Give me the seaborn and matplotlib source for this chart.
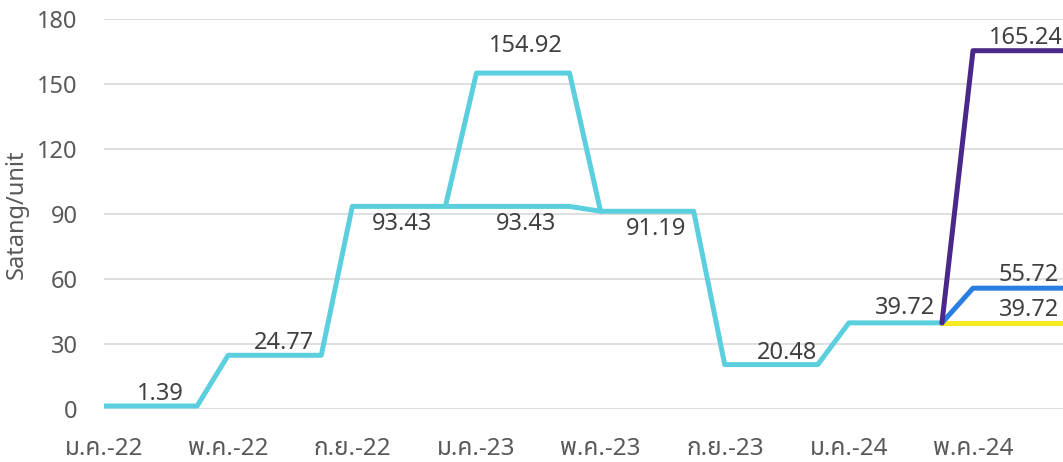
import pandas as pd
import seaborn as sns
import matplotlib
matplotlib.use('Agg')
from matplotlib import pyplot as plt

# ค่า Ft รายเดือน (index 0 = ม.ค.-22)
base_months = list(range(0, 28))
base_values = [1.39, 1.39, 1.39, 1.39,
               24.77, 24.77, 24.77, 24.77,
               93.43, 93.43, 93.43, 93.43,
               93.43, 93.43, 93.43, 93.43,
               91.19, 91.19, 91.19, 91.19,
               20.48, 20.48, 20.48, 20.48,
               39.72, 39.72, 39.72, 39.72]

upper_months = [11, 12, 13, 14, 15, 16]
upper_values = [93.43, 154.92, 154.92, 154.92, 154.92, 91.19]

option_months = [27, 28, 29, 30, 31]
option_a = [39.72, 165.24, 165.24, 165.24, 165.24]
option_b = [39.72, 55.72, 55.72, 55.72, 55.72]
option_c = [39.72, 39.72, 39.72, 39.72, 39.72]

tick_pos = [0, 4, 8, 12, 16, 20, 24, 28]
tick_labels = ['ม.ค.-22', 'พ.ค.-22', 'ก.ย.-22', 'ม.ค.-23',
               'พ.ค.-23', 'ก.ย.-23', 'ม.ค.-24', 'พ.ค.-24']

# ป้ายตัวเลข: (x, y, ข้อความ)
label_x = [1.8, 5.8, 9.6, 13.6, 13.6, 17.8, 22.0, 25.8, 29.7, 29.8, 29.8]
label_y = [1.39, 24.77, 93.43, 154.92, 93.43, 91.19, 20.48, 39.72, 165.24, 55.72, 39.72]
label_txt = ['1.39', '24.77', '93.43', '154.92', '93.43', '91.19',
             '20.48', '39.72', '165.24', '55.72', '39.72']
label_off = [12, 12, -18, 27, -18, -18, 12, 15, 13, 13, 13]

sns.set_style('white')
plt.rcParams['font.family'] = ['Noto Sans', 'Noto Sans Thai']

fig = plt.figure(figsize=(10.63, 4.62), dpi=100)
ax = fig.add_axes([104 / 1063, 53 / 462, 1 - 104 / 1063, 390.3 / 462])

cyan = '#5ccfdf'
lw = 3.6
sns.lineplot(x=upper_months, y=upper_values, color=cyan, lw=lw, ax=ax)
sns.lineplot(x=base_months, y=base_values, color=cyan, lw=lw, ax=ax)
sns.lineplot(x=option_months, y=option_c, color='#fbe91f', lw=lw, ax=ax)
sns.lineplot(x=option_months, y=option_b, color='#2a7de1', lw=lw, ax=ax)
sns.lineplot(x=option_months, y=option_a, color='#4a2889', lw=lw, ax=ax)

for x, y, t, o in zip(label_x, label_y, label_txt, label_off):
    ax.annotate(t, (x, y), xytext=(0, o * 0.72), textcoords='offset points',
                ha='center', va='center', fontsize=17, color='#404040')

ax.set_xlim(0, 30.9)
ax.set_ylim(0, 180)
ax.set_yticks(range(0, 181, 30))
ax.set_xticks(tick_pos)
ax.set_xticklabels(tick_labels)
ax.grid(axis='y', color='#d9d9d9', lw=1.2)
ax.set_axisbelow(True)
for s in ax.spines.values():
    s.set_visible(False)
ax.tick_params(axis='y', length=0, pad=19, labelsize=17, labelcolor='#595959')
ax.tick_params(axis='x', length=6.5, width=1.2, color='#d9d9d9', pad=14,
               labelsize=17.5, labelcolor='#595959', direction='out')
ax.set_ylabel('Satang/unit', fontsize=17, color='#595959', labelpad=6)
ax.set_xlabel('')

fig.savefig('out.png', dpi=100)
